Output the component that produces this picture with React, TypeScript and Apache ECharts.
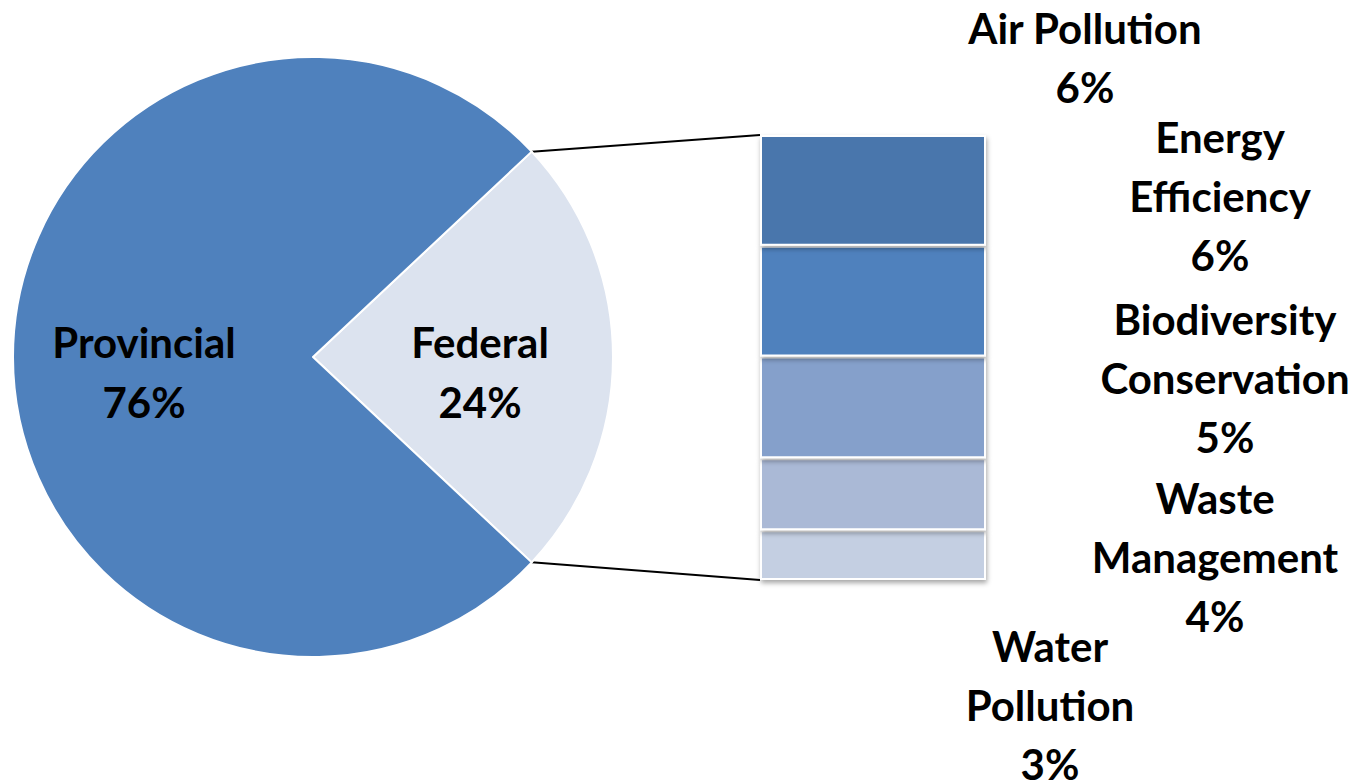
import React, { useEffect, useRef } from "react";
import * as echarts from "echarts";

const pieNames = ["Federal", "Provincial"];
const pieValues = [24, 76];
const pieColors = ["#DCE3EF", "#4F81BD"];

// bar segments, bottom to top
const barNames = ["Water\nPollution", "Waste\nManagement", "Biodiversity\nConservation", "Energy\nEfficiency", "Air Pollution"];
const barValues = [2.7, 3.9, 5.5, 6.0, 6.0];
const barLabels = ["3%", "4%", "5%", "6%", "6%"];
const barColors = ["#C4CFE2", "#AAB9D6", "#85A0CB", "#4F81BD", "#4876AC"];
const labelOffsets = [[177, 150], [342, 63], [352, -29], [347, -105], [212, -133]];
const pieLabelShift = [[14, 15], [-16, 15]];

const FONT = "Lato, 'Noto Sans', sans-serif";

export default function App() {
  const ref = useRef<HTMLDivElement>(null);
  useEffect(() => {
    const chart = echarts.init(ref.current!, null, { renderer: "svg" });
    const cx = 313, cy = 357, r = 300;
    const fedAngle = (pieValues[0] / (pieValues[0] + pieValues[1])) * 360;
    const half = fedAngle / 2;
    const gridLeft = 760, gridTop = 135, gridW = 226, gridH = 445;
    const rad = (half * Math.PI) / 180;
    const p1 = [cx + r * Math.cos(rad), cy - r * Math.sin(rad)];
    const p2 = [cx + r * Math.cos(rad), cy + r * Math.sin(rad)];
    const total = barValues.reduce((a, b) => a + b, 0);

    chart.setOption({
      animation: false,
      backgroundColor: "#ffffff",
      grid: { left: gridLeft, top: gridTop, width: gridW, height: gridH },
      xAxis: { type: "category", data: ["Federal"], show: false },
      yAxis: { type: "value", min: 0, max: total, show: false },
      graphic: [
        { type: "line", shape: { x1: p1[0], y1: p1[1], x2: gridLeft, y2: gridTop }, style: { stroke: "#000", lineWidth: 2 } },
        { type: "line", shape: { x1: p2[0], y1: p2[1], x2: gridLeft, y2: gridTop + gridH }, style: { stroke: "#000", lineWidth: 2 } },
      ],
      series: [
        {
          type: "pie",
          center: [cx, cy],
          radius: r,
          startAngle: half,
          clockwise: true,
          label: {
            position: "inner",
            fontFamily: FONT,
            fontWeight: "bold",
            fontSize: 42,
            lineHeight: 60,
            color: "#000",
            formatter: (p: any) => `${p.name}\n${p.value}%`,
          },
          labelLayout: (p: any) => ({ dx: pieLabelShift[p.dataIndex][0], dy: pieLabelShift[p.dataIndex][1] }),
          labelLine: { show: false },
          itemStyle: { borderColor: "#fff", borderWidth: 2 },
          data: pieNames.map((n, i) => ({ name: n, value: pieValues[i], itemStyle: { color: pieColors[i] } })),
        },
        ...barNames.map((n, i) => ({
          type: "bar",
          name: n,
          stack: "fed",
          barWidth: "100%",
          data: [
            {
              value: barValues[i],
              itemStyle: {
                color: barColors[i],
                borderColor: "#fff",
                borderWidth: 2,
                shadowColor: "rgba(0,0,0,0.35)",
                shadowBlur: 5,
                shadowOffsetX: 1,
                shadowOffsetY: 3,
              },
            },
          ],
          label: {
            show: true,
            position: "inside",
            offset: labelOffsets[i],
            fontFamily: FONT,
            fontWeight: "bold",
            fontSize: 42,
            lineHeight: 59,
            color: "#000",
            align: "center",
            formatter: () => `${n}\n${barLabels[i]}`,
          },
        })),
      ],
    });
    return () => chart.dispose();
  }, []);
  return <div ref={ref} style={{ position: "absolute", left: 0, top: 0, width: 1366, height: 781 }} />;
}
